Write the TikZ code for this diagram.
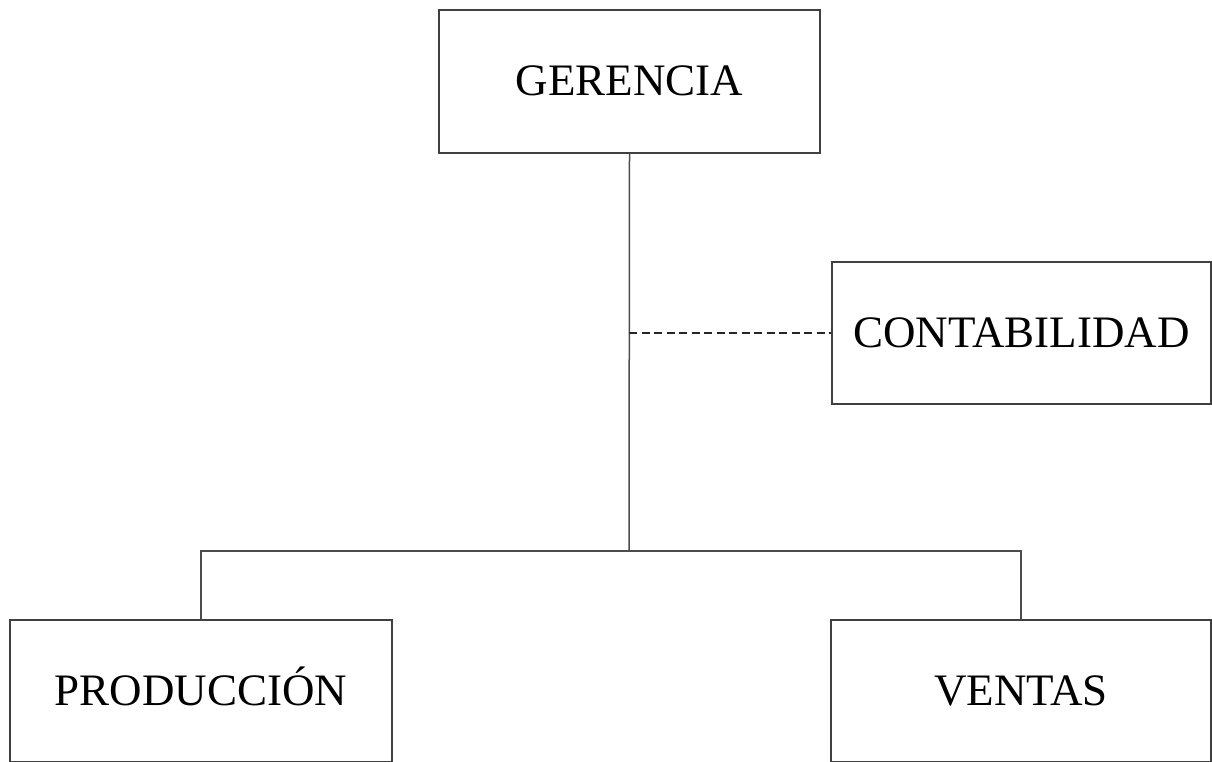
\documentclass[tikz,border=0pt]{standalone}
\usepackage{fontspec}
\setmainfont{Liberation Serif}
\begin{document}
\begin{tikzpicture}[x=1pt,y=-1pt,
  orgbox/.style={draw=black!75, line width=1.5pt, rectangle, inner sep=0pt,
    minimum width=380pt, minimum height=142pt, text height=31pt, text depth=3pt,
    font=\fontsize{45}{52}\selectfont},
  link/.style={draw=black!70, line width=1.5pt},
  staff/.style={draw=black!85, line width=1.8pt, dash pattern=on 8pt off 4.5pt}]
\useasboundingbox (0,0) rectangle (1212,762);
\fill[white] (0,0) rectangle (1212,762);
\node[orgbox, minimum width=381pt, minimum height=143pt] (ger) at (629.5,81.5) {GERENCIA};
\node[orgbox, minimum width=379pt] (cont) at (1021.5,333) {CONTABILIDAD};
\node[orgbox, minimum width=382pt] (prod) at (201,691) {PRODUCCIÓN};
\node[orgbox] (ven) at (1021,691) {VENTAS};
\coordinate (j) at (629,551);
\coordinate (d) at (629,333);
\draw[link] (ger.south) -- (j);
\draw[link] (prod.north) |- (j) -| (ven.north);
\draw[staff] (d) -- (cont.west);
\end{tikzpicture}
\end{document}
